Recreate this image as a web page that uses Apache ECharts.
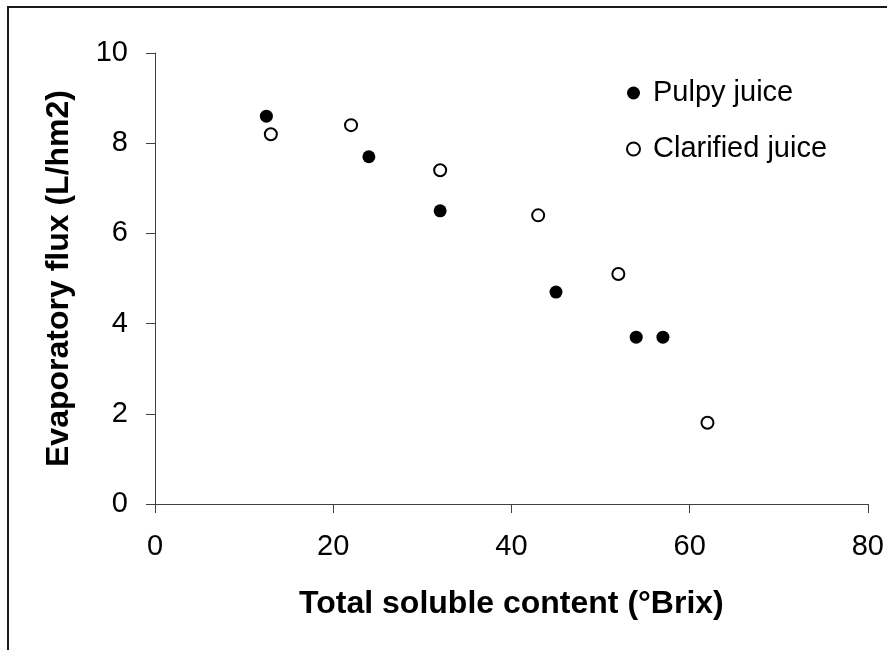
<!DOCTYPE html>
<html>
<head>
<meta charset="utf-8">
<script src="https://cdn.jsdelivr.net/npm/echarts@6/dist/echarts.min.js"></script>
<style>
  html, body { margin: 0; padding: 0; background: #fff; }
  #chart { width: 887px; height: 650px; }
</style>
</head>
<body>
<div id="chart"></div>
<script>
// Brix (x) vs evaporatory flux (y)
const pulpyBrix = [12.5, 24, 32, 45, 54, 57];
const pulpyFlux = [8.6, 7.7, 6.5, 4.7, 3.7, 3.7];
const clarifiedBrix = [13, 22, 32, 43, 52, 62];
const clarifiedFlux = [8.2, 8.4, 7.4, 6.4, 5.1, 1.8];

const xTicks = [0, 20, 40, 60, 80];
const yTicks = [0, 2, 4, 6, 8, 10];

const font = 'Liberation Sans, Arial, sans-serif';
const axisColor = '#404040';

function pairs(xs, ys) {
    return xs.map((x, i) => [x, ys[i]]);
}

const chart = echarts.init(document.getElementById('chart'));

chart.setOption({
    animation: false,
    backgroundColor: '#fff',
    grid: { left: 155, right: 15, top: 53, bottom: 146 },
    graphic: [
        {
            type: 'rect',
            shape: { x: 8, y: 7, width: 1000, height: 1000 },
            style: { fill: 'none', stroke: '#1a1a1a', lineWidth: 2 },
            silent: true
        }
    ],
    legend: {
        orient: 'vertical',
        left: 621,
        top: 73,
        itemWidth: 13,
        itemHeight: 13,
        itemGap: 26,
        textStyle: {
            fontFamily: font,
            fontSize: 29,
            lineHeight: 30,
            color: '#000',
            padding: [0, 0, 0, 8]
        },
        data: ['Pulpy juice', 'Clarified juice']
    },
    xAxis: {
        type: 'value',
        min: xTicks[0],
        max: xTicks[xTicks.length - 1],
        interval: 20,
        name: 'Total soluble content (°Brix)',
        nameLocation: 'middle',
        nameGap: 84,
        nameTextStyle: { fontFamily: font, fontSize: 32, fontWeight: 'bold', color: '#000' },
        axisLine: { lineStyle: { color: axisColor, width: 1 } },
        axisTick: { show: true, length: 9, lineStyle: { color: axisColor } },
        axisLabel: { fontFamily: font, fontSize: 29, color: '#000', margin: 28 },
        splitLine: { show: false }
    },
    yAxis: {
        type: 'value',
        min: yTicks[0],
        max: yTicks[yTicks.length - 1],
        interval: 2,
        name: 'Evaporatory flux (L/hm2)',
        nameLocation: 'middle',
        nameRotate: 90,
        nameGap: 80,
        nameTextStyle: { fontFamily: font, fontSize: 32, fontWeight: 'bold', color: '#000' },
        axisLine: { show: true, lineStyle: { color: axisColor, width: 1 } },
        axisTick: { show: true, length: 9, lineStyle: { color: axisColor } },
        axisLabel: { fontFamily: font, fontSize: 29, color: '#000', margin: 27 },
        splitLine: { show: false }
    },
    series: [
        {
            name: 'Pulpy juice',
            type: 'scatter',
            symbol: 'circle',
            symbolSize: 13,
            itemStyle: { color: '#000', opacity: 1 },
            data: pairs(pulpyBrix, pulpyFlux)
        },
        {
            name: 'Clarified juice',
            type: 'scatter',
            symbol: 'circle',
            symbolSize: 12,
            itemStyle: { color: '#fff', borderColor: '#000', borderWidth: 2, opacity: 1 },
            data: pairs(clarifiedBrix, clarifiedFlux)
        }
    ]
});
</script>
</body>
</html>
